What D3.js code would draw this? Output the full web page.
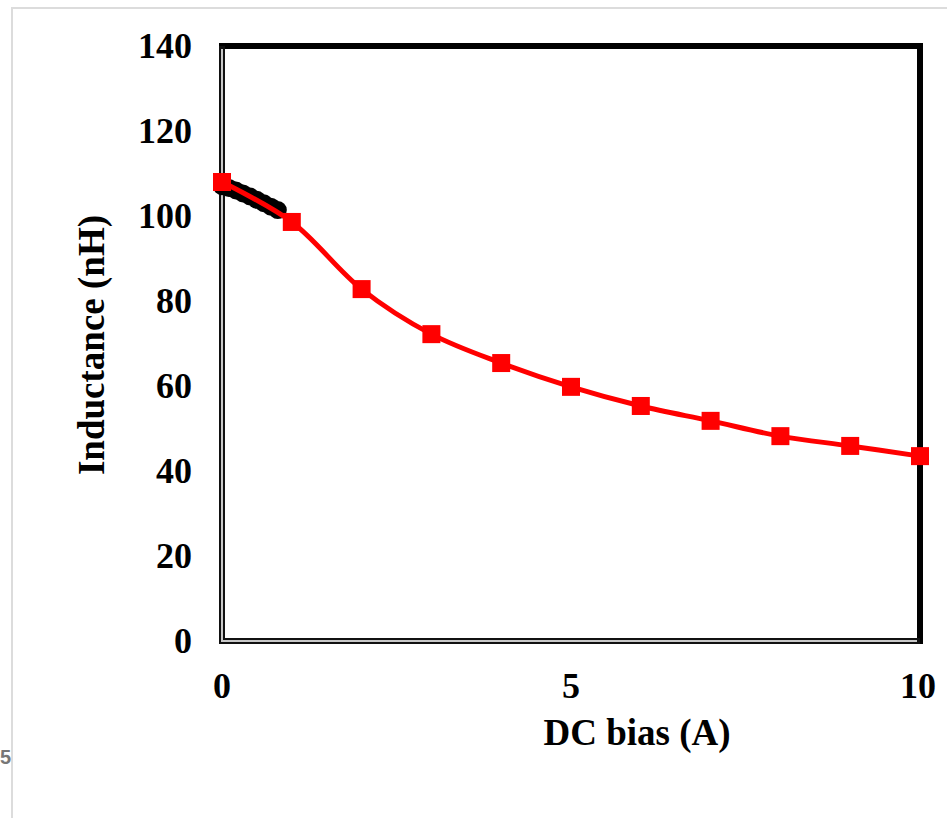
<!DOCTYPE html>
<html>
<head>
<meta charset="utf-8">
<script src="https://cdn.jsdelivr.net/npm/d3@7"></script>
<style>
  body { margin: 0; background: #fff; }
  svg { display: block; }
</style>
</head>
<body>
<svg id="chart" width="947" height="818"></svg>
<script>
// red series, whole range (A, nH)
const biasRed = [0, 1, 2, 3, 4, 5, 6, 7, 8, 9, 10];
const indRed = [108, 98.6, 82.8, 72.2, 65.4, 59.8, 55.3, 51.8, 48.2, 45.9, 43.5];

// black series, low current range
const biasBlack = [0, 0.1, 0.2, 0.3, 0.4, 0.5, 0.6, 0.7, 0.8];
const indBlack = [107, 106.6, 106, 105.3, 104.6, 103.8, 103, 102.2, 101.4];

const xTicks = [0, 5, 10];
const yTicks = [0, 20, 40, 60, 80, 100, 120, 140];

const svg = d3.select("#chart");
const plotL = 222, plotR = 920, plotT = 46, plotB = 641;

// light page frame
svg.append("path")
    .attr("d", "M12,830 L12,8 L960,8")
    .attr("fill", "none")
    .attr("stroke", "#dcdcdc")
    .attr("stroke-width", 2);

svg.append("text")
    .attr("x", 0).attr("y", 764)
    .style("font-family", "Liberation Sans, Arial, sans-serif")
    .style("font-size", "20px")
    .style("font-weight", "bold")
    .style("fill", "#777")
    .text("5");

const x = d3.scaleLinear().domain([0, 10]).range([plotL, plotR]);
const y = d3.scaleLinear().domain([0, 140]).range([plotB, plotT]);

const font = "'Liberation Serif', 'Times New Roman', serif";

// plot frame: thick top / right, double left / bottom
svg.append("path")
    .attr("d", `M${plotL},${plotT} L${plotR},${plotT} L${plotR},${plotB}`)
    .attr("fill", "none")
    .attr("stroke", "#000")
    .attr("stroke-width", 6)
    .attr("stroke-linecap", "square");
svg.append("path")
    .attr("d", `M${plotL},${plotT} L${plotL},${plotB} L${plotR},${plotB}`)
    .attr("fill", "none")
    .attr("stroke", "#111")
    .attr("stroke-width", 6);
svg.append("path")
    .attr("d", `M${plotL},${plotT + 3} L${plotL},${plotB} L${plotR - 3},${plotB}`)
    .attr("fill", "none")
    .attr("stroke", "#c8c8c8")
    .attr("stroke-width", 2);

// y tick labels
svg.append("g").selectAll("text")
    .data(yTicks)
    .enter()
    .append("text")
    .attr("x", 192)
    .attr("y", d => y(d) + 12)
    .attr("text-anchor", "end")
    .style("font-family", font)
    .style("font-weight", "bold")
    .style("font-size", "36px")
    .text(d => d);

// x tick labels
svg.append("g").selectAll("text")
    .data(xTicks)
    .enter()
    .append("text")
    .attr("x", d => x(d) + (d === 10 ? -2 : 0))
    .attr("y", 698)
    .attr("text-anchor", "middle")
    .style("font-family", font)
    .style("font-weight", "bold")
    .style("font-size", "36px")
    .text(d => d);

svg.append("text")
    .attr("x", 637).attr("y", 745)
    .attr("text-anchor", "middle")
    .style("font-family", font)
    .style("font-weight", "bold")
    .style("font-size", "37px")
    .text("DC bias (A)");

svg.append("text")
    .attr("transform", "translate(104,345) rotate(-90)")
    .attr("text-anchor", "middle")
    .style("font-family", font)
    .style("font-weight", "bold")
    .style("font-size", "37px")
    .text("Inductance (nH)");

// black series
const blackData = biasBlack.map((b, i) => ({ b: b, v: indBlack[i] }));
svg.append("path")
    .datum(blackData)
    .attr("fill", "none")
    .attr("stroke", "#000")
    .attr("stroke-width", 8)
    .attr("d", d3.line().x(d => x(d.b)).y(d => y(d.v)));
svg.append("g").selectAll("circle")
    .data(blackData)
    .enter()
    .append("circle")
    .attr("cx", d => x(d.b))
    .attr("cy", d => y(d.v))
    .attr("r", 9)
    .attr("fill", "#000");

// red series
const redData = biasRed.map((b, i) => ({ b: b, v: indRed[i] }));
svg.append("path")
    .datum(redData)
    .attr("fill", "none")
    .attr("stroke", "#ff0000")
    .attr("stroke-width", 5)
    .attr("d", d3.line().curve(d3.curveCatmullRom.alpha(0.5)).x(d => x(d.b)).y(d => y(d.v)));
svg.append("g").selectAll("rect")
    .data(redData)
    .enter()
    .append("rect")
    .attr("x", d => x(d.b) - 9)
    .attr("y", d => y(d.v) - 9)
    .attr("width", 18)
    .attr("height", 18)
    .attr("fill", "#ff0000");
</script>
</body>
</html>
